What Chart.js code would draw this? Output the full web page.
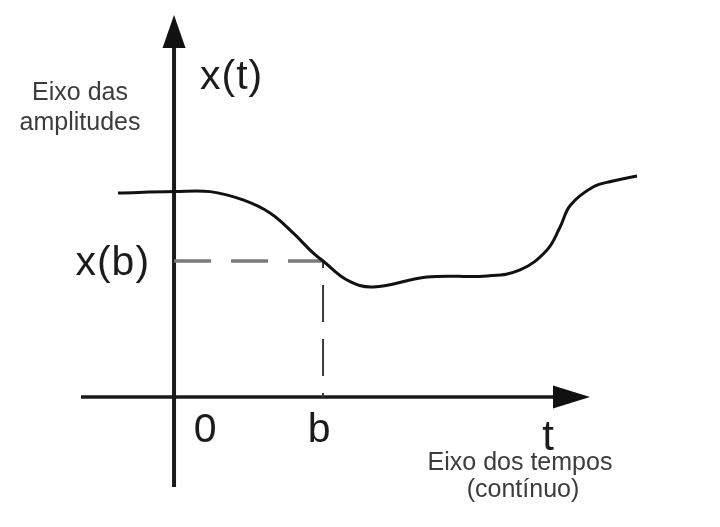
<!DOCTYPE html>
<html>
<head>
<meta charset="utf-8">
<script src="https://cdn.jsdelivr.net/npm/chart.js@4"></script>
<style>
  html, body { margin: 0; padding: 0; background: #fff; }
  #grafico { display: block; }
</style>
</head>
<body>
<canvas id="grafico" width="720" height="527"></canvas>
<script>
// ---- dados (t em unidades de b, amplitude em unidades de x(b)) ----
const tempos = [-0.376, 0, 0.242, 0.463, 0.644, 0.799, 0.933, 1.0, 1.161, 1.336, 1.698, 2.101, 2.322, 2.503, 2.591, 2.66, 2.812, 2.946, 3.107];
const amplitudes = [1.50, 1.51, 1.51, 1.449, 1.353, 1.206, 1.059, 1.0, 0.86, 0.809, 0.882, 0.890, 0.934, 1.081, 1.25, 1.41, 1.544, 1.588, 1.625];
const pontoB = { t: 1, x: 1 };
const limitesT = [-1.168, 3.664];
const limitesX = [-0.956, 2.919];
const rotulosEixoT = ["0", "b", "t"];
const rotuloAmplitudes = ["Eixo das", "amplitudes"];
const rotuloTempos = ["Eixo dos tempos", "(contínuo)"];

// ---- eixos com setas e textos ----
const eixosPlugin = {
  id: "eixos",
  beforeDatasetsDraw(chart) {
    const { ctx, scales } = chart;
    const px = (v) => scales.x.getPixelForValue(v);
    const py = (v) => scales.y.getPixelForValue(v);
    const x0 = px(0), y0 = py(0);

    ctx.save();
    ctx.strokeStyle = "#1a1a1a";
    ctx.fillStyle = "#111";
    ctx.lineWidth = 4;
    // eixo vertical
    ctx.beginPath();
    ctx.moveTo(x0, 487);
    ctx.lineTo(x0, 46);
    ctx.stroke();
    ctx.beginPath();
    ctx.moveTo(x0 - 11.5, 48);
    ctx.lineTo(x0 + 11.5, 48);
    ctx.lineTo(x0, 15);
    ctx.closePath();
    ctx.fill();
    // eixo horizontal
    ctx.lineWidth = 3.5;
    ctx.beginPath();
    ctx.moveTo(81, y0);
    ctx.lineTo(555, y0);
    ctx.stroke();
    ctx.beginPath();
    ctx.moveTo(553, y0 - 11.5);
    ctx.lineTo(553, y0 + 11.5);
    ctx.lineTo(590, y0);
    ctx.closePath();
    ctx.fill();
    ctx.restore();
  },
  afterDatasetsDraw(chart) {
    const { ctx, scales } = chart;
    const px = (v) => scales.x.getPixelForValue(v);
    const py = (v) => scales.y.getPixelForValue(v);
    const x0 = px(0), y0 = py(0);

    ctx.save();
    ctx.fillStyle = "#1c1c1c";
    ctx.textBaseline = "alphabetic";
    ctx.font = "41px 'Liberation Sans', Arial, sans-serif";
    ctx.letterSpacing = "1px";
    ctx.textAlign = "left";
    ctx.fillText("x(t)", x0 + 26, 89);
    ctx.textAlign = "right";
    ctx.fillText("x(b)", x0 - 24, py(pontoB.x) + 14);

    ctx.letterSpacing = "0px";
    ctx.font = "41px 'Liberation Sans', Arial, sans-serif";
    ctx.textAlign = "center";
    ctx.fillText(rotulosEixoT[0], x0 + 31, y0 + 45);
    ctx.fillText(rotulosEixoT[1], px(pontoB.t) - 4, y0 + 45);
    ctx.font = "42px 'Liberation Sans', Arial, sans-serif";
    ctx.fillText(rotulosEixoT[2], 548, y0 + 53);

    ctx.fillStyle = "#3c3c3c";
    ctx.font = "25px 'Liberation Sans', Arial, sans-serif";
    ctx.fillText(rotuloAmplitudes[0], 80, 100);
    ctx.fillText(rotuloAmplitudes[1], 80, 130);
    ctx.fillText(rotuloTempos[0], 520, 470);
    ctx.fillText(rotuloTempos[1], 523, 497);
    ctx.restore();
  },
};

new Chart(document.getElementById("grafico"), {
  type: "line",
  data: {
    datasets: [
      {
        label: "x(t)",
        data: tempos.map((t, i) => ({ x: t, y: amplitudes[i] })),
        borderColor: "#111",
        borderWidth: 3,
        tension: 0.4,
        pointRadius: 0,
      },
      {
        label: "nível x(b)",
        data: [{ x: 0, y: pontoB.x }, { x: pontoB.t, y: pontoB.x }],
        borderColor: "#7a7a7a",
        borderWidth: 3.5,
        borderDash: [37, 20],
        pointRadius: 0,
      },
      {
        label: "instante b",
        data: [{ x: pontoB.t, y: 0 }, { x: pontoB.t, y: pontoB.x }],
        borderColor: "#3a3a3a",
        borderWidth: 2,
        borderDash: [37, 17],
        borderDashOffset: 33,
        pointRadius: 0,
      },
    ],
  },
  options: {
    responsive: false,
    animation: false,
    layout: { padding: 0 },
    plugins: { legend: { display: false }, tooltip: { enabled: false } },
    scales: {
      x: { type: "linear", min: limitesT[0], max: limitesT[1], display: false },
      y: { type: "linear", min: limitesX[0], max: limitesX[1], display: false },
    },
  },
  plugins: [eixosPlugin],
});
</script>
</body>
</html>
